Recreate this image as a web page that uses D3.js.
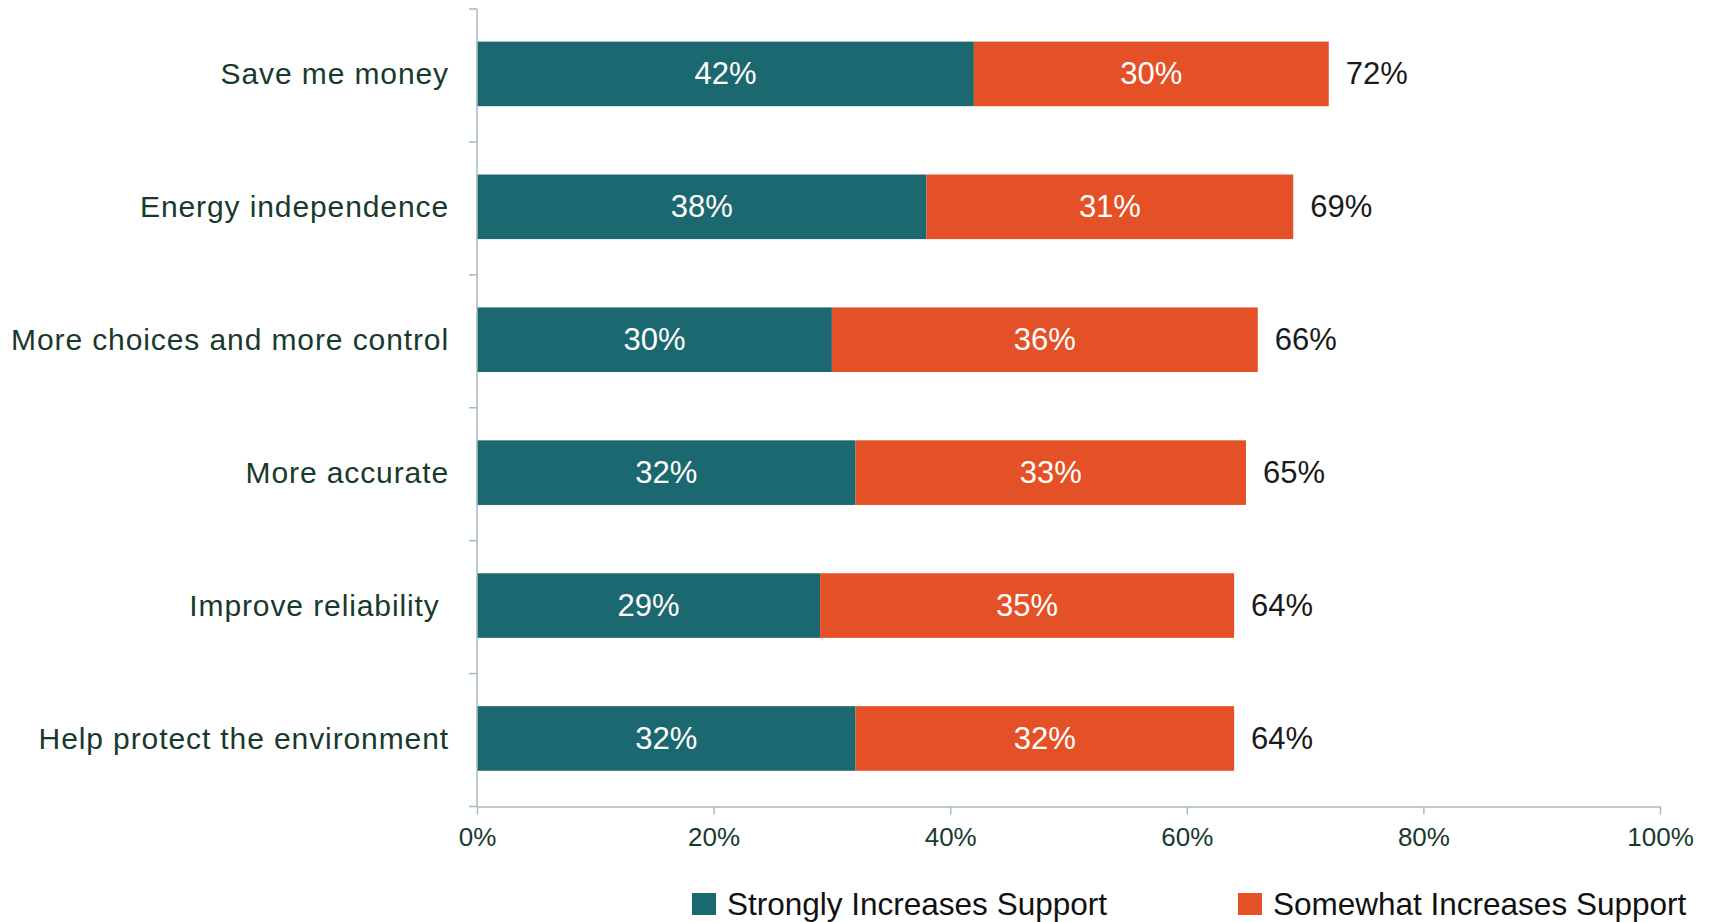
<!DOCTYPE html>
<html>
<head>
<meta charset="utf-8">
<script src="https://cdn.jsdelivr.net/npm/d3@7"></script>
<style>
  html, body { margin: 0; padding: 0; background: #ffffff; }
  svg { display: block; font-family: "Liberation Sans", Arial, sans-serif; }
  .cat { white-space: pre; }
</style>
</head>
<body>
<svg id="chart" width="1716" height="922"></svg>
<script>
// Survey results: what increases support, by reason
const categories = [
  "Save me money",
  "Energy independence",
  "More choices and more control",
  "More accurate",
  "Improve reliability ",
  "Help protect the environment"
];
const strongly = [42, 38, 30, 32, 29, 32];
const somewhat = [30, 31, 36, 33, 35, 32];
const totals = [72, 69, 66, 65, 64, 64];
const xTicks = [0, 20, 40, 60, 80, 100];
const seriesNames = ["Strongly Increases Support", "Somewhat Increases Support"];
const colors = ["#1c6870", "#e45126"];

const svg = d3.select("#chart");
const plotLeft = 477, plotRight = 1660, plotTop = 9, plotBottom = 806.5;

const x = d3.scaleLinear().domain([0, 100]).range([plotLeft, plotRight]);
const pad = 0.514;
const y = d3.scaleBand().domain(categories).range([plotTop, plotBottom])
  .paddingInner(pad).paddingOuter(pad / 2).align(0.477);

const axisColor = "#a9babd";

// Bars: stacked segments
const rows = categories.map((c, i) => ({ c, s: strongly[i], w: somewhat[i], t: totals[i] }));

const g = svg.append("g");
g.selectAll("rect.strong").data(rows).join("rect")
  .attr("class", "strong")
  .attr("x", x(0)).attr("y", d => y(d.c))
  .attr("width", d => x(d.s) - x(0)).attr("height", y.bandwidth())
  .attr("fill", colors[0]);
g.selectAll("rect.some").data(rows).join("rect")
  .attr("class", "some")
  .attr("x", d => x(d.s)).attr("y", d => y(d.c))
  .attr("width", d => x(d.s + d.w) - x(d.s)).attr("height", y.bandwidth())
  .attr("fill", colors[1]);

// Segment value labels
g.selectAll("text.sv").data(rows).join("text")
  .attr("class", "sv")
  .attr("x", d => (x(0) + x(d.s)) / 2).attr("y", d => y(d.c) + y.bandwidth() / 2)
  .attr("text-anchor", "middle").attr("dominant-baseline", "central")
  .attr("fill", "#ffffff").attr("font-size", 31)
  .text(d => d.s + "%");
g.selectAll("text.wv").data(rows).join("text")
  .attr("class", "wv")
  .attr("x", d => (x(d.s) + x(d.s + d.w)) / 2).attr("y", d => y(d.c) + y.bandwidth() / 2)
  .attr("text-anchor", "middle").attr("dominant-baseline", "central")
  .attr("fill", "#ffffff").attr("font-size", 31)
  .text(d => d.w + "%");
// Totals
g.selectAll("text.tv").data(rows).join("text")
  .attr("class", "tv")
  .attr("x", d => x(d.s + d.w) + 17).attr("y", d => y(d.c) + y.bandwidth() / 2)
  .attr("text-anchor", "start").attr("dominant-baseline", "central")
  .attr("fill", "#1a1a1a").attr("font-size", 31)
  .text(d => d.t + "%");

// Category axis with ticks at band boundaries
const step = y.step();
const bounds = d3.range(categories.length + 1).map(i => plotTop + i * step);
svg.append("line")
  .attr("x1", plotLeft).attr("x2", plotLeft).attr("y1", bounds[0]).attr("y2", bounds[bounds.length - 1])
  .attr("stroke", axisColor).attr("stroke-width", 1.5);
svg.selectAll("line.ytick").data(bounds).join("line")
  .attr("class", "ytick")
  .attr("x1", plotLeft - 8).attr("x2", plotLeft).attr("y1", d => d).attr("y2", d => d)
  .attr("stroke", axisColor).attr("stroke-width", 1.5);
svg.selectAll("text.cat").data(categories).join("text")
  .attr("class", "cat")
  .attr("x", plotLeft - 28).attr("y", d => y(d) + y.bandwidth() / 2)
  .attr("text-anchor", "end").attr("dominant-baseline", "central")
  .attr("fill", "#183a2c").attr("font-size", 30).attr("letter-spacing", 0.9)
  .text(d => d);

// Value axis
const xAxis = svg.append("g").attr("transform", `translate(0,${plotBottom})`)
  .call(d3.axisBottom(x).tickValues(xTicks).tickFormat(d => d + "%").tickSize(8).tickSizeOuter(0).tickPadding(13));
xAxis.select(".domain").attr("stroke", axisColor).attr("stroke-width", 1.5);
xAxis.selectAll(".tick line").attr("stroke", axisColor).attr("stroke-width", 1.5);
xAxis.selectAll(".tick text").attr("fill", "#183a2c").attr("font-size", 26)
  .attr("font-family", "'Liberation Sans', Arial, sans-serif");

// Legend
const legendX = [692, 1238];
const legend = svg.selectAll("g.leg").data(seriesNames).join("g")
  .attr("class", "leg")
  .attr("transform", (d, i) => `translate(${legendX[i]},893)`);
legend.append("rect").attr("width", 24).attr("height", 22).attr("fill", (d, i) => colors[i]);
legend.append("text").attr("x", 35).attr("y", 11).attr("dominant-baseline", "central")
  .attr("font-size", 31.5).attr("fill", "#111").text(d => d);
</script>
</body>
</html>
